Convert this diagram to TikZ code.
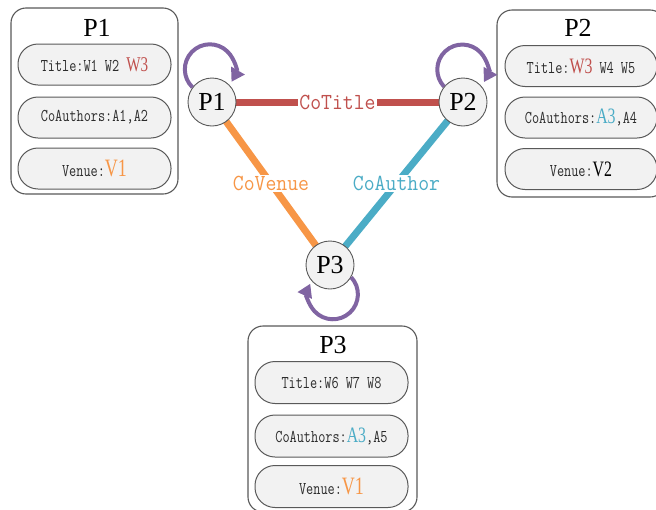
\documentclass[tikz,border=0pt]{standalone}
\usepackage{fontspec}
\setmainfont{Liberation Serif}
\newfontfamily\fieldfont[FakeStretch=0.77]{Latin Modern Mono}
\newfontfamily\labfont[FakeStretch=0.92]{Latin Modern Mono}
\newfontfamily\narrowfont[FakeStretch=0.72]{Liberation Serif}
\usetikzlibrary{arrows.meta}
\definecolor{cred}{HTML}{C0504D}
\definecolor{corange}{HTML}{F79646}
\definecolor{cblue}{HTML}{4BACC6}
\definecolor{cpurple}{HTML}{8064A2}
\definecolor{cfill}{HTML}{F2F2F2}
\definecolor{cborder}{HTML}{595959}
\definecolor{ctext}{HTML}{2B2B2B}
\newcommand{\hlword}[3]{{\narrowfont\fontsize{#2}{#2}\selectfont\color{#1}#3}}
\tikzset{
  x=1pt, y=1pt,
  outerbox/.style={draw=cborder, line width=1.1pt, rounded corners=15pt, fill=white,
    minimum width=167pt, minimum height=186pt, inner sep=0pt},
  pill/.style={draw=cborder, line width=1pt, fill=cfill, rounded corners=20pt,
    minimum width=153pt, minimum height=41pt, inner sep=0pt,
    font=\fieldfont\fontsize{18}{20}\selectfont, text=ctext},
  boxtitle/.style={font=\fontsize{26}{26}\selectfont, inner sep=0pt},
  pnode/.style={circle, draw=cborder, line width=0.9pt, fill=cfill, minimum size=48pt,
    inner sep=0pt, font=\fontsize{26}{26}\selectfont},
  relline/.style={line width=7pt},
  rellab/.style={fill=white, inner sep=1.5pt, font=\labfont\fontsize{23}{23}\selectfont},
  loopst/.style={draw=cpurple, line width=4pt, -{Triangle[length=13pt,width=15pt]}},
}
\begin{document}
\begin{tikzpicture}
\useasboundingbox (0,0) rectangle (656,-509);

% Outer boxes
\node[outerbox] (box1) at (94.5,-101) {};
\node[outerbox, minimum width=168pt, minimum height=187pt] (box2) at (581,-103.5) {};
\node[outerbox, minimum width=169pt] (box3) at (332.5,-419) {};

% Titles
\node[boxtitle] (t1) at (97,-28) {P1};
\node[boxtitle] (t2) at (578,-28) {P2};
\node[boxtitle] (t3) at (333,-345) {P3};

% P1 fields
\node[pill] (p1a) at (94.5,-64.5) {Title:W1 W2 \hlword{cred}{21}{W3}};
\node[pill] (p1b) at (94.5,-117.5) {CoAuthors:A1,A2};
\node[pill] (p1c) at (94.5,-168.5) {Venue:\hlword{corange}{25}{V1}};

% P2 fields
\node[pill, minimum width=152pt] (p2a) at (581,-66) {Title:\hlword{cred}{22}{W3} W4 W5};
\node[pill, minimum width=152pt] (p2b) at (581,-117.5) {CoAuthors:\hlword{cblue}{22}{A3},A4};
\node[pill, minimum width=152pt] (p2c) at (581,-169) {Venue:\hlword{black}{22}{V2}};

% P3 fields
\node[pill, minimum height=42pt] (p3a) at (331.5,-382.5) {Title:W6 W7 W8};
\node[pill, minimum height=42pt] (p3b) at (331.5,-436) {CoAuthors:\hlword{cblue}{22}{A3},A5};
\node[pill, minimum height=42pt] (p3c) at (331.5,-486.5) {Venue:\hlword{corange}{25}{V1}};

% Graph node positions
\coordinate (c1) at (212,-102);
\coordinate (c2) at (463,-102);
\coordinate (c3) at (330,-265);

% Relations
\draw[relline, cred] (c1) -- node[rellab, text=cred] {CoTitle} (c2);
\draw[relline, corange] (c1) -- node[rellab, text=corange] {CoVenue} (c3);
\draw[relline, cblue] (c2) -- node[rellab, text=cblue] {CoAuthor} (c3);

% Nodes on top of lines
\node[pnode] (p1) at (c1) {P1};
\node[pnode] (p2) at (c2) {P2};
\node[pnode] (p3) at (c3) {P3};

% Self loops
\draw[loopst] (p1.143) arc[start angle=226, end angle=-30, radius=25];
\draw[loopst] (p2.141) arc[start angle=223, end angle=-30, radius=25];
\draw[loopst] (p3.-30) arc[start angle=43, end angle=-205, radius=25];
\end{tikzpicture}
\end{document}
